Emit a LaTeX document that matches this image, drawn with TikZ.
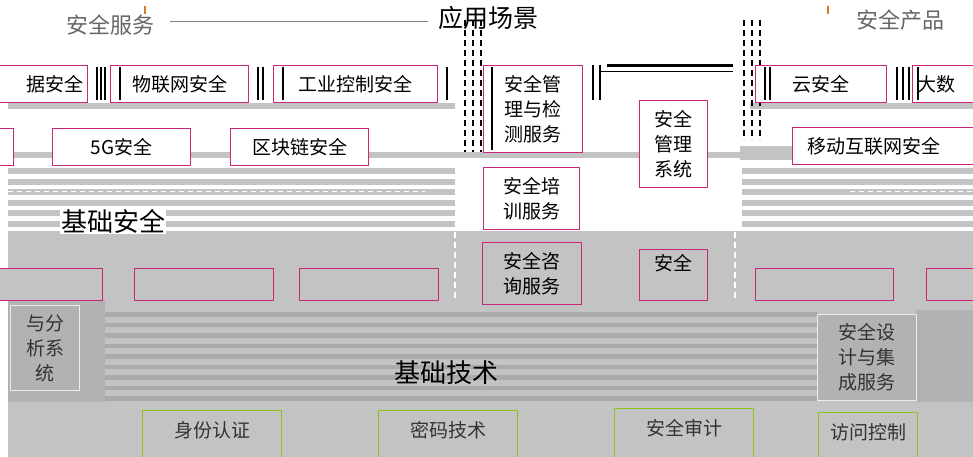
\documentclass[tikz,border=0pt]{standalone}
\usepackage{fontspec}
\setmainfont{Noto Sans CJK SC}
\definecolor{mag}{HTML}{C8277A}
\definecolor{grn}{HTML}{8CC31E}
\definecolor{gbg}{HTML}{C3C3C3}
\definecolor{gdk}{HTML}{ABABAB}
\definecolor{gbx}{HTML}{B2B2B2}
\definecolor{orn}{HTML}{D08020}
\begin{document}
\begin{tikzpicture}[x=1pt,y=-1pt,
  mbox/.style={draw=mag,line width=1.3pt,fill=white,anchor=north west,inner sep=0pt,
    font=\fontsize{19}{25}\selectfont,align=center},
  gbox/.style={draw=grn,line width=1.4pt,fill=gbg,anchor=north west,inner sep=0pt,
    font=\fontsize{19}{25}\selectfont,align=center,text=black!80},
  pbox/.style={draw=white!85!gray,line width=1pt,fill=gbx,anchor=north west,inner sep=0pt,
    font=\fontsize{19}{25}\selectfont,align=center,text=black!80},
  layer/.style={font=\fontsize{26}{28}\selectfont,inner sep=1pt},
  bar/.style={line width=2pt,black},
  dashv/.style={line width=1.8pt,black,dash pattern=on 6pt off 4pt},
  wdash/.style={line width=1.5pt,white,dash pattern=on 6pt off 4pt}]
\useasboundingbox (0,0) rectangle (973,457);
\clip (0,0) rectangle (973,457);
\fill[white] (0,0) rectangle (973,457);
% grey bands and stripes
\foreach \y in {168,178.5,189,199.5,210,220.5}{
  \fill[gbg] (8,\y) rectangle (455,\y+6);
  \fill[gbg] (742,\y) rectangle (973,\y+6);}
\draw[white,line width=1pt,dash pattern=on 5pt off 4pt] (8,191) -- (425,191);
\draw[white,line width=1pt,dash pattern=on 5pt off 4pt] (850,191) -- (973,191);
\fill[gbg] (8,103) rectangle (455,109);
\fill[gbg] (750,103) rectangle (973,109);
\fill[gbg] (8,152) rectangle (740,158);
\fill[gbg] (740,146) rectangle (800,160);
\fill[gbg] (8,231) rectangle (973,457);
% lower region
\fill[gbx] (8,300) rectangle (105,402);
\fill[gbx] (916,310) rectangle (973,402);
\foreach \y in {312,322.5,333,343.5,354,364.5,375,385.5,396}{
  \fill[gdk] (105,\y) rectangle (818,\y+4.5);}
\draw[wdash] (455,232) -- (455,300);
\draw[wdash] (735,232) -- (735,300);
% top titles
\draw[gray,line width=1pt] (170,22) -- (428,22);
\node[font=\fontsize{25}{28}\selectfont,inner sep=0pt] (app) at (488,18) {应用场景};
\node[font=\fontsize{22}{24}\selectfont,text=black!60,inner sep=0pt] (svc) at (110,25) {安全服务};
\node[font=\fontsize{22}{24}\selectfont,text=black!60,inner sep=0pt] (prd) at (900,20) {安全产品};
\fill[orn] (144,6) rectangle (146,14);
\fill[orn] (827,6) rectangle (829,14);
% dashed and solid glitch lines
\foreach \x in {465,473,481}{\draw[dashv] (\x,20) -- (\x,152);}
\foreach \x in {744,752,760}{\draw[dashv] (\x,20) -- (\x,140);}
% row 1
\node[mbox,minimum width=130pt,minimum height=37pt,text width=122pt,align=right] (bd1) at (-43,65) {据安全\ \ };
\node[mbox,minimum width=138pt,minimum height=37pt] (iot) at (110,65) {物联网安全};
\node[mbox,minimum width=164pt,minimum height=37pt] (ics) at (273,65) {工业控制安全};
\node[mbox,minimum width=131pt,minimum height=37pt] (cloud) at (755,65) {云安全};
\node[mbox,minimum width=140pt,minimum height=37pt,text width=136pt,align=left] (bd2) at (912,65) {\,大数};
\foreach \x in {97,101,105,258,263,283,447,765,770,897,903,909,918}{\draw[bar] (\x,67) -- (\x,100);}
\draw[bar] (120,67) -- (120,100);
% row 2
\node[mbox,minimum width=60pt,minimum height=37pt] (m5) at (-47,128) {};
\node[mbox,minimum width=138pt,minimum height=37pt] (g5) at (52,128) {5G安全};
\node[mbox,minimum width=138pt,minimum height=37pt] (bc) at (230,128) {区块链安全};
\node[mbox,minimum width=200pt,minimum height=37pt,text width=176pt,align=left] (mob) at (792,127) {\,移动互联网安全};
% middle column
\node[mbox,minimum width=99pt,minimum height=87pt] (jc) at (483,65) {安全管\\理与检\\测服务};
\node[mbox,minimum width=96pt,minimum height=62pt] (px) at (483,167) {安全培\\训服务};
\node[mbox,minimum width=99pt,minimum height=62pt,fill=gbg] (zx) at (482,242) {安全咨\\询服务};
\node[mbox,minimum width=68pt,minimum height=87pt] (gl) at (639,100) {安全\\管理\\系统};
\node[mbox,draw=mag,minimum width=68pt,minimum height=51pt,fill=gbg] (aq) at (639,249) {安全\\\phantom{安全}};
\draw[bar] (492,67) -- (492,150);
\draw[bar] (593,65) -- (593,100);
\draw[bar] (600,65) -- (600,100);
\draw[line width=3pt] (607,66) -- (733,66);
\draw[line width=1pt] (600,72) -- (733,72);
% row 3 (partly hidden)
\node[mbox,fill=gbg,minimum width=120pt,minimum height=32pt] (r31) at (-18,268) {};
\node[mbox,fill=gbg,minimum width=139pt,minimum height=32pt] (r32) at (134,268) {};
\node[mbox,fill=gbg,minimum width=139pt,minimum height=32pt] (r33) at (299,268) {};
\node[mbox,fill=gbg,minimum width=138pt,minimum height=32pt] (r34) at (755,268) {};
\node[mbox,fill=gbg,minimum width=80pt,minimum height=32pt] (r35) at (926,268) {};
% layer labels
\node[layer,fill=white] (jcaq) at (113,221) {基础安全};
\node[layer] (jcjs) at (446,373) {基础技术};
% product / service boxes in lower layer
\node[pbox,minimum width=69pt,minimum height=85pt] (fx) at (10,305) {与分\\析系\\统};
\node[pbox,minimum width=99pt,minimum height=86pt] (sj) at (817,314) {安全设\\计与集\\成服务};
% bottom technology boxes
\node[gbox,minimum width=139pt,minimum height=60pt,text depth=22pt] (sf) at (142,410) {身份认证};
\node[gbox,minimum width=139pt,minimum height=60pt,text depth=22pt] (mm) at (378,410) {密码技术};
\node[gbox,minimum width=139pt,minimum height=60pt,text depth=22pt] (sj2) at (614,408) {安全审计};
\node[gbox,minimum width=99pt,minimum height=60pt,text depth=22pt] (fw) at (818,412) {访问控制};
\end{tikzpicture}
\end{document}
